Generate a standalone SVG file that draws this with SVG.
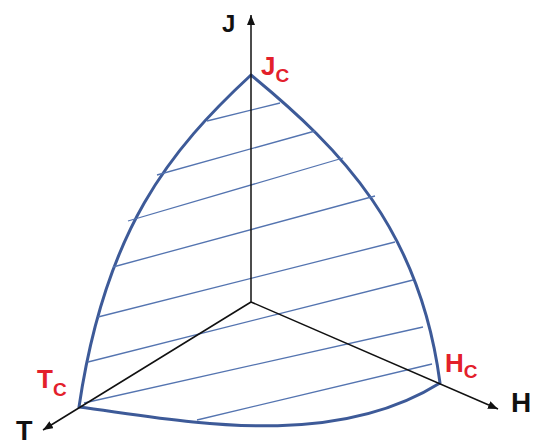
<svg xmlns="http://www.w3.org/2000/svg" width="539" height="446" viewBox="0 0 539 446">
<style>
.axis{stroke:#111;stroke-width:1.5;fill:none}
.edge{stroke:#3d5a98;stroke-width:3;fill:none;stroke-linejoin:round}
.hatch{stroke:#5474b0;stroke-width:1.3;fill:none}
.lbl{font-family:"Liberation Sans",Arial,sans-serif;font-weight:bold;fill:#111}
.red{font-family:"Liberation Sans",Arial,sans-serif;font-weight:bold;fill:#e3202b}
</style>
<defs>
<marker id="arr" viewBox="0 0 10 8" refX="10" refY="4" markerWidth="10" markerHeight="8" markerUnits="userSpaceOnUse" orient="auto">
<path d="M0,0 L10,4 L0,8 Z" fill="#111"/>
</marker>
</defs>
<rect width="539" height="446" fill="#fff"/>
<g id="surface">
<path class="edge" d="M251 75 C170 150 105 230 79 407 C180 420 330 452 440 383 C420 230 342 150 251 75 Z"/>
<g id="hatching">
<line class="hatch" x1="207" y1="121" x2="280" y2="103"/>
<line class="hatch" x1="157" y1="175" x2="315" y2="131"/>
<line class="hatch" x1="128" y1="221" x2="343" y2="158"/>
<line class="hatch" x1="113" y1="267" x2="375" y2="196"/>
<line class="hatch" x1="98" y1="317" x2="395" y2="242"/>
<line class="hatch" x1="88" y1="362" x2="413" y2="280"/>
<line class="hatch" x1="84" y1="403" x2="423" y2="327"/>
<line class="hatch" x1="197" y1="420" x2="432" y2="364"/>
</g>
</g>
<g id="connectors">
<line class="axis" x1="251" y1="302" x2="251" y2="15" marker-end="url(#arr)"/>
<line class="axis" x1="251" y1="302" x2="43" y2="430" marker-end="url(#arr)"/>
<line class="axis" x1="251" y1="302" x2="498" y2="409" marker-end="url(#arr)"/>
</g>
<g id="axis-J"><text class="lbl" x="222" y="32" font-size="24">J</text></g>
<g id="axis-T"><text class="lbl" x="16" y="440" font-size="27">T</text></g>
<g id="axis-H"><text class="lbl" x="511" y="412" font-size="28">H</text></g>
<g id="point-Jc"><text class="red" x="261" y="75" font-size="26">J<tspan font-size="19" dy="7">C</tspan></text></g>
<g id="point-Tc"><text class="red" x="37" y="388" font-size="26">T<tspan font-size="19" dy="8">C</tspan></text></g>
<g id="point-Hc"><text class="red" x="445" y="372" font-size="26">H<tspan font-size="19" dy="6">C</tspan></text></g>
</svg>
